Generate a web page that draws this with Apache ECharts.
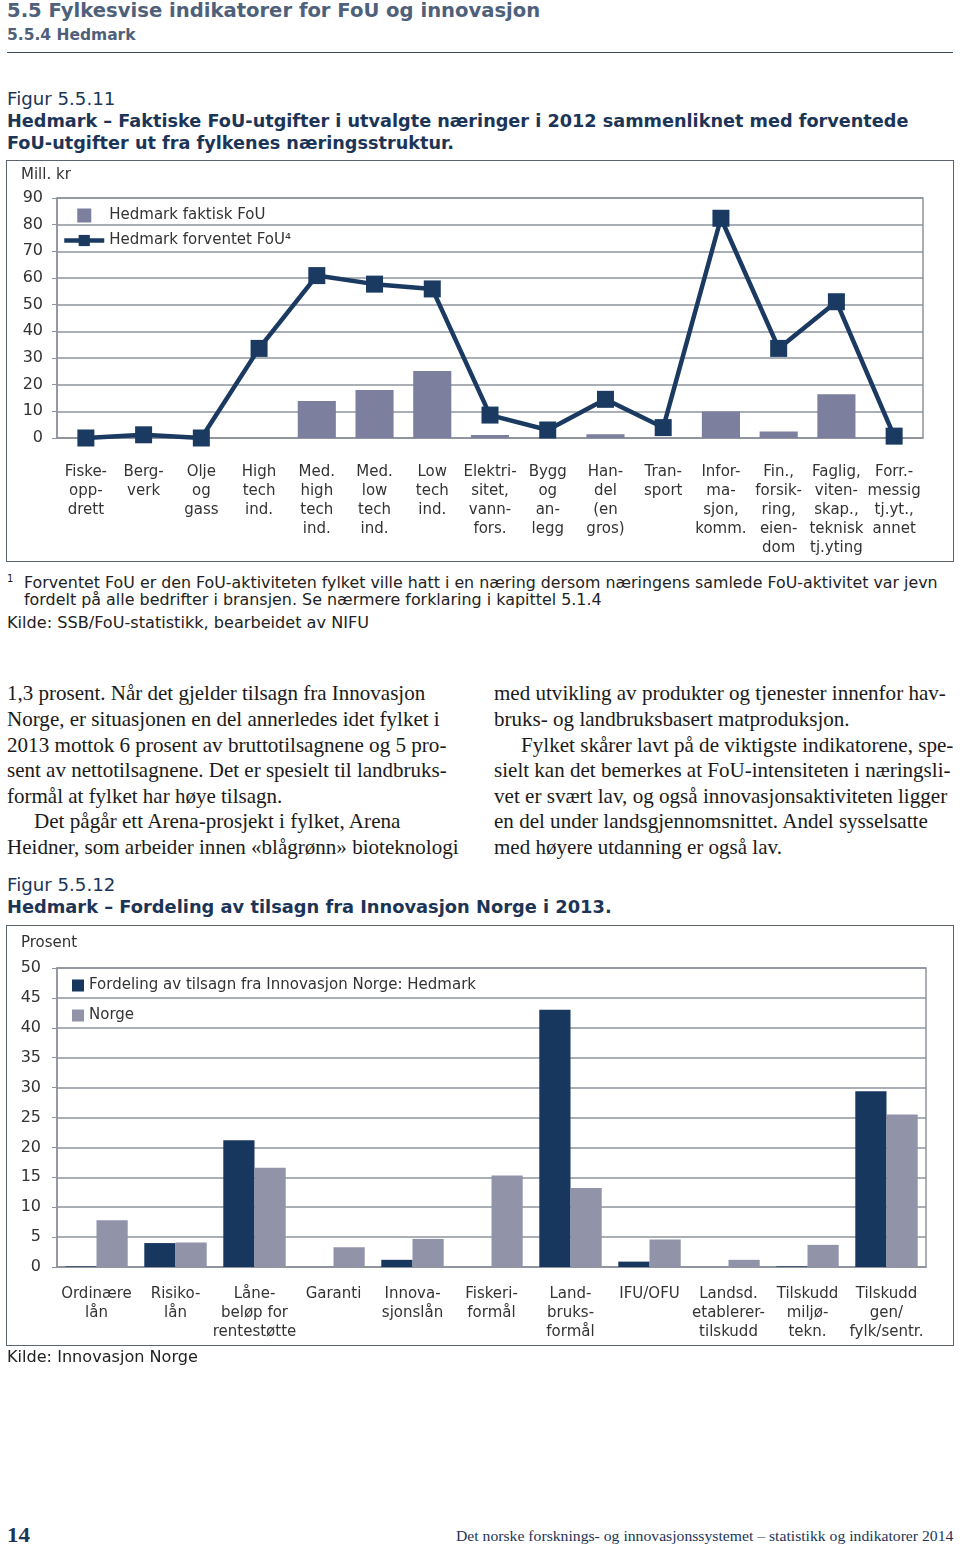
<!DOCTYPE html>
<html><head><meta charset="utf-8">
<script src="https://cdn.jsdelivr.net/npm/echarts@6/dist/echarts.min.js"></script>
<style>
html,body{margin:0;padding:0;background:#fff;width:960px;height:1549px;position:relative;overflow:hidden}
.t{position:absolute;white-space:nowrap;transform-origin:0 50%;}
.frame{position:absolute;border:1.5px solid #5c6470;box-sizing:border-box}
.chart{position:absolute}
</style></head><body>
<div style="position:absolute;left:7px;top:52px;width:946px;height:0;border-top:1.5px solid #3d4a58"></div>
<div class="frame" style="left:6px;top:160px;width:948px;height:402px"></div>
<div id="c1" class="chart" style="left:6px;top:160px;width:947px;height:401px"></div>
<div class="frame" style="left:6px;top:925px;width:948px;height:421px"></div>
<div id="c2" class="chart" style="left:6px;top:925px;width:947px;height:420px"></div>
<script>
// ---- Data: figure 5.5.11 ----
const cats1 = ['Fiske-\nopp-\ndrett','Berg-\nverk','Olje\nog\ngass','High\ntech\nind.','Med.\nhigh\ntech\nind.','Med.\nlow\ntech\nind.','Low\ntech\nind.','Elektri-\nsitet,\nvann-\nfors.','Bygg\nog\nan-\nlegg','Han-\ndel\n(en\ngros)','Tran-\nsport','Infor-\nma-\nsjon,\nkomm.','Fin.,\nforsik-\nring,\neien-\ndom','Faglig,\nviten-\nskap.,\nteknisk\ntj.yting','Forr.-\nmessig\ntj.yt.,\nannet'];
const faktisk = [0,0,0,0,13.9,18,25.1,1.1,0,1.4,0,9.9,2.4,16.4,0];
const forventet = [0,1.2,0,33.6,60.9,57.7,55.9,8.6,3,14.5,3.9,82.4,33.6,51.1,0.7];
const name1a = 'Hedmark faktisk FoU';
const name1b = 'Hedmark forventet FoU⁴';
// ---- Data: figure 5.5.12 ----
const cats2 = ['Ordinære\nlån','Risiko-\nlån','Låne-\nbeløp for\nrentestøtte','Garanti','Innova-\nsjonslån','Fiskeri-\nformål','Land-\nbruks-\nformål','IFU/OFU','Landsd.\netablerer-\ntilskudd','Tilskudd\nmiljø-\ntekn.','Tilskudd\ngen/\nfylk/sentr.'];
const hedmark = [0.1,4.0,21.2,0,1.2,0,43.0,0.9,0,0.1,29.4];
const norge = [7.8,4.1,16.6,3.3,4.7,15.3,13.2,4.6,1.2,3.7,25.5];
const name2a = 'Fordeling av tilsagn fra Innovasjon Norge: Hedmark';
const name2b = 'Norge';

// ---- Page texts: [text, x, centerY, width(0 = natural), font, color] ----
const SANS = '"DejaVu Sans", Verdana, sans-serif';
const SERIF = '"Liberation Serif", "Times New Roman", serif';
const texts = [
 ['5.5 Fylkesvise indikatorer for FoU og innovasjon',7,10,533,'bold 19px '+SANS,'#4f607a'],
 ['5.5.4 Hedmark',7,35,129,'bold 15px '+SANS,'#4f607a'],
 ['Figur 5.5.11',7,99,108,'17px '+SANS,'#1c3557'],
 ['Hedmark – Faktiske FoU-utgifter i utvalgte næringer i 2012 sammenliknet med forventede',7,121,901,'bold 17px '+SANS,'#1c3557'],
 ['FoU-utgifter ut fra fylkenes næringsstruktur.',7,143,447,'bold 17px '+SANS,'#1c3557'],
 ['1',7,579,6,'10px '+SANS,'#222'],
 ['Forventet FoU er den FoU-aktiviteten fylket ville hatt i en næring dersom næringens samlede FoU-aktivitet var jevn',24,583,914,'15px '+SANS,'#222'],
 ['fordelt på alle bedrifter i bransjen. Se nærmere forklaring i kapittel 5.1.4',24,600,578,'15px '+SANS,'#222'],
 ['Kilde: SSB/FoU-statistikk, bearbeidet av NIFU',7,623,362,'15px '+SANS,'#222'],
 ['1,3 prosent. Når det gjelder tilsagn fra Innovasjon',7,693,418,'21px '+SERIF,'#1a1a1a'],
 ['Norge, er situasjonen en del annerledes idet fylket i',7,719,433,'21px '+SERIF,'#1a1a1a'],
 ['2013 mottok 6 prosent av bruttotilsagnene og 5 pro-',7,745,439,'21px '+SERIF,'#1a1a1a'],
 ['sent av nettotilsagnene. Det er spesielt til landbruks-',7,770,440,'21px '+SERIF,'#1a1a1a'],
 ['formål at fylket har høye tilsagn.',7,796,275,'21px '+SERIF,'#1a1a1a'],
 ['Det pågår ett Arena-prosjekt i fylket, Arena',34,821,366,'21px '+SERIF,'#1a1a1a'],
 ['Heidner, som arbeider innen «blågrønn» bioteknologi',7,847,452,'21px '+SERIF,'#1a1a1a'],
 ['med utvikling av produkter og tjenester innenfor hav-',494,693,452,'21px '+SERIF,'#1a1a1a'],
 ['bruks- og landbruksbasert matproduksjon.',494,719,356,'21px '+SERIF,'#1a1a1a'],
 ['Fylket skårer lavt på de viktigste indikatorene, spe-',521,745,432,'21px '+SERIF,'#1a1a1a'],
 ['sielt kan det bemerkes at FoU-intensiteten i næringsli-',494,770,457,'21px '+SERIF,'#1a1a1a'],
 ['vet er svært lav, og også innovasjonsaktiviteten ligger',494,796,453,'21px '+SERIF,'#1a1a1a'],
 ['en del under landsgjennomsnittet. Andel sysselsatte',494,821,434,'21px '+SERIF,'#1a1a1a'],
 ['med høyere utdanning er også lav.',494,847,288,'21px '+SERIF,'#1a1a1a'],
 ['Figur 5.5.12',7,885,108,'17px '+SANS,'#1c3557'],
 ['Hedmark – Fordeling av tilsagn fra Innovasjon Norge i 2013.',7,907,605,'bold 17px '+SANS,'#1c3557'],
 ['Kilde: Innovasjon Norge',7,1357,191,'15px '+SANS,'#222'],
 ['14',7,1535,23,'bold 22px '+SERIF,'#1c3557'],
 ['Det norske forsknings- og innovasjonssystemet – statistikk og indikatorer 2014',456,1536,497,'15px '+SERIF,'#1c3557']
];
const els = texts.map(([s,x,cy,w,f,c])=>{
  const d=document.createElement('div');d.className='t';d.textContent=s;
  d.style.font=f;d.style.color=c;d.style.left=x+'px';d.style.lineHeight='30px';d.style.top=(cy-15)+'px';
  document.body.appendChild(d);return [d,w];
});
function fit(){els.forEach(([d,w])=>{if(!w)return;const r=d.offsetWidth;if(r>0)d.style.transform='scaleX('+(w/r)+')';});}
fit();
if(document.fonts&&document.fonts.ready)document.fonts.ready.then(fit);

const FONT='DejaVu Sans';
const GRID='#8e939c';
// ---- Chart 1 ----
const ch1 = echarts.init(document.getElementById('c1'),null,{renderer:'canvas'});
ch1.setOption({
  animation:false,
  textStyle:{fontFamily:FONT},
  graphic:[{type:'text',left:15,top:8,style:{text:'Mill. kr',font:'15px '+FONT,fill:'#333'}}],
  grid:{left:51,top:38,right:30,height:240,show:true,borderColor:GRID,borderWidth:1.5,backgroundColor:'transparent'},
  legend:{orient:'vertical',left:56,top:48,padding:0,itemWidth:40,itemHeight:14,itemGap:10,
    textStyle:{fontFamily:FONT,fontSize:15,color:'#333'},
    data:[{name:name1a,icon:'path://M0,0L10,0L10,10L0,10Z'},{name:name1b,lineStyle:{width:4.5}}]},
  xAxis:{type:'category',data:cats1,
    axisLine:{lineStyle:{color:GRID,width:1.5}},axisTick:{show:false},
    axisLabel:{interval:0,margin:25,fontFamily:FONT,fontSize:15,lineHeight:19,color:'#333',align:'center',verticalAlign:'top'}},
  yAxis:{type:'value',min:0,max:90,interval:10,
    axisLine:{show:true,lineStyle:{color:GRID,width:1.5}},axisTick:{show:true,length:5,lineStyle:{color:GRID}},
    splitLine:{lineStyle:{color:GRID,width:1.5}},
    axisLabel:{margin:14,fontFamily:FONT,fontSize:16,color:'#333'}},
  series:[
    {name:name1a,type:'bar',data:faktisk,barCategoryGap:'34%',itemStyle:{color:'#7c7f9d'}},
    {name:name1b,type:'line',data:forventet,symbol:'rect',symbolSize:17,
     lineStyle:{color:'#1b3a62',width:4.5},itemStyle:{color:'#1b3a62'}}
  ]
});
// ---- Chart 2 ----
const ch2 = echarts.init(document.getElementById('c2'),null,{renderer:'canvas'});
ch2.setOption({
  animation:false,
  textStyle:{fontFamily:FONT},
  graphic:[{type:'text',left:15,top:11,style:{text:'Prosent',font:'15px '+FONT,fill:'#333'}}],
  grid:{left:51,top:43,right:27,height:299,show:true,borderColor:GRID,borderWidth:1.5,backgroundColor:'transparent'},
  legend:{orient:'vertical',left:66,top:53,padding:0,itemWidth:12,itemHeight:12,itemGap:15,icon:'rect',
    textStyle:{fontFamily:FONT,fontSize:15,color:'#333'},data:[name2a,name2b]},
  xAxis:{type:'category',data:cats2,
    axisLine:{lineStyle:{color:GRID,width:1.5}},axisTick:{show:false},
    axisLabel:{interval:0,margin:18,fontFamily:FONT,fontSize:15,lineHeight:19,color:'#333',align:'center',verticalAlign:'top'}},
  yAxis:{type:'value',min:0,max:50,interval:5,
    axisLine:{show:true,lineStyle:{color:GRID,width:1.5}},axisTick:{show:true,length:5,lineStyle:{color:GRID}},
    splitLine:{lineStyle:{color:GRID,width:1.5}},
    axisLabel:{margin:16,fontFamily:FONT,fontSize:16,color:'#333'}},
  series:[
    {name:name2a,type:'bar',data:hedmark,barGap:'0%',barCategoryGap:'21%',itemStyle:{color:'#17375e'}},
    {name:name2b,type:'bar',data:norge,barGap:'0%',barCategoryGap:'21%',itemStyle:{color:'#9193a9'}}
  ]
});
</script>
</body></html>
